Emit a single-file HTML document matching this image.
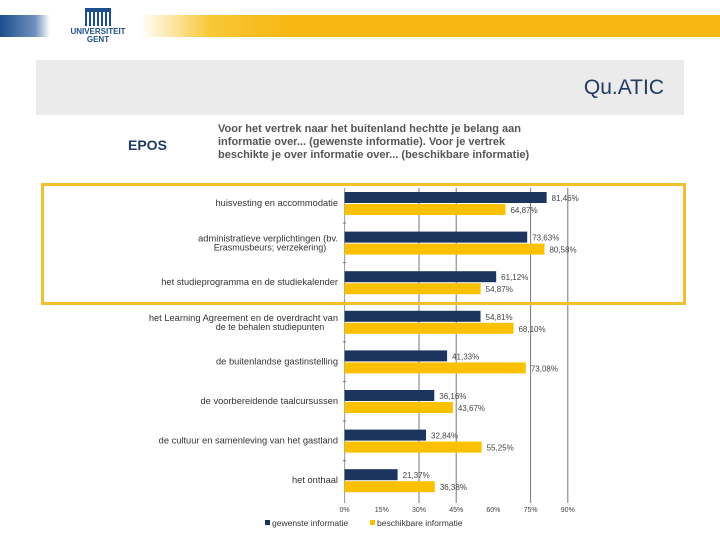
<!DOCTYPE html>
<html><head><meta charset="utf-8"><style>
body{margin:0;width:720px;height:540px;background:#fff;position:relative;overflow:hidden;font-family:"Liberation Sans",sans-serif}
.abs{position:absolute}
</style></head><body>
<div class="abs" style="left:0;top:15px;width:50px;height:22px;background:linear-gradient(90deg,#1d4f8c,#6f8fbf 70%,#fff)"></div>
<div class="abs" style="left:140px;top:15px;width:580px;height:22px;background:linear-gradient(90deg,#fff,#f8c838 12%,#f7b814 25%,#f7b814)"></div>
<div class="abs" style="left:70px;top:8px;width:56px;text-align:center;color:#1d4f8c;font-size:8px;font-weight:bold;line-height:8px">
<div style="width:26px;height:14px;margin:0 auto 2px;background:repeating-linear-gradient(90deg,#1d4f8c 0 2px,#fff 2px 4px);border-top:4px solid #1d4f8c"></div>UNIVERSITEIT<br>GENT</div>
<div class="abs" style="left:36px;top:60px;width:648px;height:55px;background:#ebebeb"></div>
<div class="abs" style="right:56px;top:76px;font-size:21px;color:#1f3a63">Qu.ATIC</div>
<div class="abs" style="left:128px;top:137px;font-size:14px;font-weight:bold;color:#1f3a63">EPOS</div>
<div class="abs" style="left:218px;top:123px;font-size:11px;font-weight:bold;color:#555;line-height:13px">Voor het vertrek naar het buitenland hechtte je belang aan<br>informatie over... (gewenste informatie). Voor je vertrek<br>beschikte je over informatie over... (beschikbare informatie)</div>
<svg class="abs" style="left:0;top:0" width="720" height="540">
<g id="g"></g></svg>
<div class="abs" style="left:41px;top:183px;width:639px;height:116px;border:3px solid #f0c030"></div>
<script>
const categories=["huisvesting en accommodatie","administratieve verplichtingen (bv.|Erasmusbeurs; verzekering)","het studieprogramma en de studiekalender","het Learning Agreement en de overdracht van|de te behalen studiepunten","de buitenlandse gastinstelling","de voorbereidende taalcursussen","de cultuur en samenleving van het gastland","het onthaal"];
const gewenst=[81.46,73.63,61.12,54.81,41.33,36.16,32.84,21.37];
const beschikbaar=[64.87,80.58,54.87,68.10,73.08,43.67,55.25,36.38];
const ticks=[0,15,30,45,60,75,90];
const gridTicks=[30,45,75,90];
const g=document.getElementById('g');const NS="http://www.w3.org/2000/svg";
const x=v=>344.6+v*37.2/15;const y0=192,step=39.6;
function el(t,a,txt){const e=document.createElementNS(NS,t);for(const k in a)e.setAttribute(k,a[k]);if(txt!=null)e.textContent=txt;g.appendChild(e);return e;}
const fmt=v=>v.toFixed(2).replace('.',',')+'%';
gridTicks.forEach(t=>{const l=el('line',{x1:x(t),x2:x(t),y1:188,y2:503,stroke:'#777','stroke-width':1});});
ticks.forEach(t=>{const tx=el('text',{x:x(t),y:512,'font-size':7,'text-anchor':'middle',fill:'#444'},t+'%');});
el('line',{x1:344.6,x2:344.6,y1:188,y2:503,stroke:'#999'});
categories.forEach((c,i)=>{const yt=y0+i*step;
const b1=el('rect',{x:x(0),y:yt,width:x(gewenst[i])-x(0),height:11,fill:'#1c355e'});
const b2=el('rect',{x:x(0),y:yt+12,width:x(beschikbaar[i])-x(0),height:11,fill:'#fbc000'});
const v1=el('text',{x:x(gewenst[i])+5,y:yt+9,'font-size':8,fill:'#444'},fmt(gewenst[i]));
const v2=el('text',{x:x(beschikbaar[i])+5,y:yt+21,'font-size':8,fill:'#444'},fmt(beschikbaar[i]));
const parts=c.split('|');
if(parts.length==1){const t=el('text',{x:338,y:yt+14,'font-size':9.3,'text-anchor':'end',fill:'#333'},c);}
else{const t=el('text',{x:338,y:yt+10,'font-size':9.3,'text-anchor':'end',fill:'#333'},parts[0]);
const t2=el('text',{x:270,y:yt+19,'font-size':9,'text-anchor':'middle',fill:'#333'},parts[1]);}
if(i<categories.length-1)el('line',{x1:343,x2:346,y1:yt+31,y2:yt+31,stroke:'#777'});});
const lg=[['#1c355e','gewenste informatie',265],['#fbc000','beschikbare informatie',370]];
lg.forEach(l=>{const r=el('rect',{x:l[2],y:520,width:5,height:5,fill:l[0]});
const t=el('text',{x:l[2]+7,y:526,'font-size':8.5,fill:'#333'},l[1]);});
</script>
</body></html>
